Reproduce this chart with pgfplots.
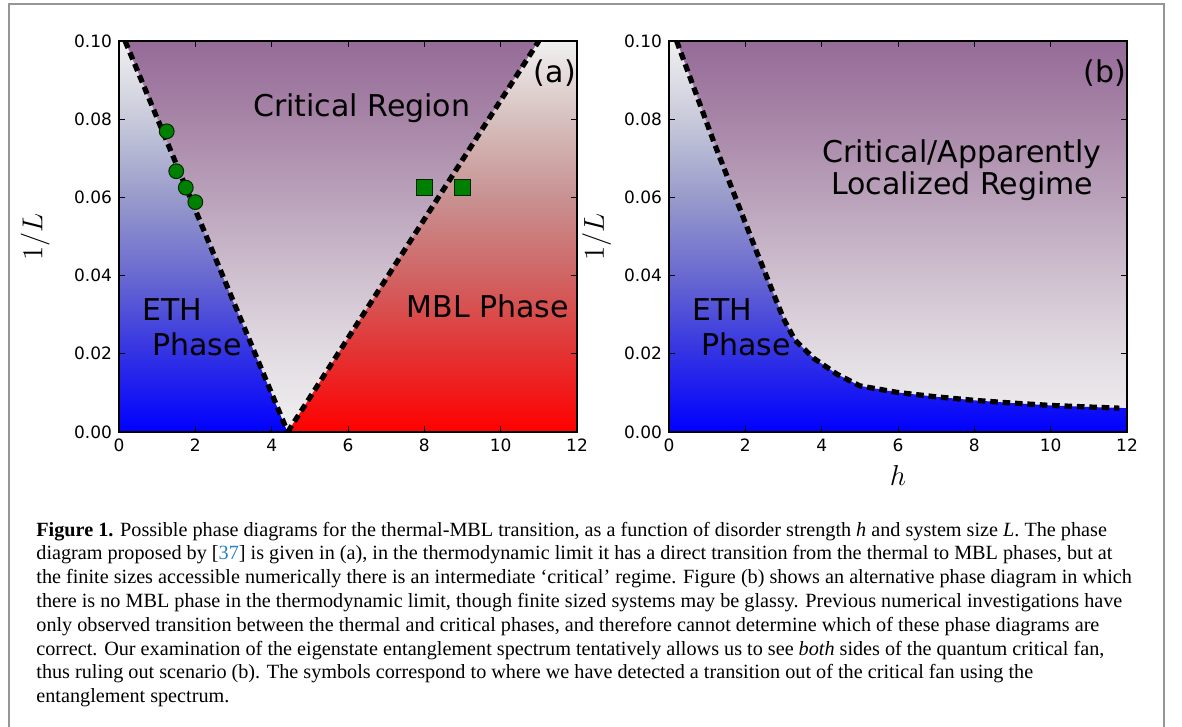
\documentclass[border=0pt]{standalone}
\usepackage[no-math]{fontspec}
\setmainfont{Liberation Serif}
\newfontfamily\dejavu{DejaVu Sans}
\usepackage{pgfplots}
\pgfplotsset{compat=1.18}

\definecolor{mplgreen}{RGB}{0,128,0}
\definecolor{citeblue}{RGB}{40,130,190}
\definecolor{framegray}{RGB}{150,150,150}
\definecolor{ltgray}{RGB}{240,240,240}
% colour stops, y = 0, .02, .04, .06, .08, .10
\definecolor{eth0}{RGB}{0,0,255}
\definecolor{eth1}{RGB}{50,50,228}
\definecolor{eth2}{RGB}{105,105,208}
\definecolor{eth3}{RGB}{152,155,202}
\definecolor{eth4}{RGB}{200,202,218}
\definecolor{crit1}{RGB}{226,220,226}
\definecolor{crit2}{RGB}{207,192,207}
\definecolor{crit3}{RGB}{186,162,186}
\definecolor{crit4}{RGB}{167,133,167}
\definecolor{crit5}{RGB}{150,107,152}
\definecolor{mbl0}{RGB}{255,0,0}
\definecolor{mbl1}{RGB}{228,50,50}
\definecolor{mbl2}{RGB}{208,100,100}
\definecolor{mbl3}{RGB}{200,145,145}
\definecolor{mbl4}{RGB}{214,192,190}

\pgfdeclareverticalshading{eth}{100bp}{color(0bp)=(eth0); color(25bp)=(eth0);
  color(35bp)=(eth1); color(45bp)=(eth2); color(55bp)=(eth3); color(65bp)=(eth4);
  color(75bp)=(ltgray); color(100bp)=(ltgray)}
\pgfdeclareverticalshading{crit}{100bp}{color(0bp)=(ltgray); color(25bp)=(ltgray);
  color(35bp)=(crit1); color(45bp)=(crit2); color(55bp)=(crit3); color(65bp)=(crit4);
  color(75bp)=(crit5); color(100bp)=(crit5)}
\pgfdeclareverticalshading{mbl}{100bp}{color(0bp)=(mbl0); color(25bp)=(mbl0);
  color(35bp)=(mbl1); color(45bp)=(mbl2); color(55bp)=(mbl3); color(65bp)=(mbl4);
  color(75bp)=(ltgray); color(100bp)=(ltgray)}

\pgfplotsset{
  phase/.style={
    scale only axis, width=229pt, height=195.5pt,
    xmin=0, xmax=12, ymin=0, ymax=0.1,
    xtick={0,2,4,6,8,10,12},
    ytick={0,0.02,0.04,0.06,0.08,0.1},
    scaled y ticks=false,
    yticklabel style={/pgf/number format/.cd, fixed, fixed zerofill, precision=2},
    /pgf/number format/assume math mode=true,
    tick label style={font=\dejavu\fontsize{8.5}{10}\selectfont},
    major tick length=3pt,
    tick style={black, line width=0.5pt},
    axis line style={line width=0.6pt},
    axis on top,
    ylabel={$1/L$},
  },
}
\tikzset{
  boundary/.style={black, line width=2.6pt, dash pattern=on 3.8pt off 2.4pt},
  lbl/.style={font=\dejavu\fontsize{15}{17}\selectfont, align=center},
}

\begin{document}
\begin{tikzpicture}
\useasboundingbox (0,0) rectangle (591pt,-363.5pt);
\draw[framegray, line width=1pt] (4.5pt,-380pt) |- (582pt,-2pt) -- (582pt,-380pt);

% (a)
\begin{axis}[phase, at={(59.5pt,-216pt)}, anchor=south west,
  every axis y label/.style={at={(axis description cs:-0.183,0.5)}, rotate=90, anchor=center,
    font=\fontsize{14}{16}\selectfont}]
  \addplot[draw=none, shade, shading=eth]
    coordinates {(0,0) (0,0.1) (0.16,0.1) (4.42,0)} -- cycle;
  \addplot[draw=none, shade, shading=crit]
    coordinates {(0.16,0.1) (4.42,0) (11.0,0.1)} -- cycle;
  \addplot[draw=none, shade, shading=mbl]
    coordinates {(4.42,0) (11.0,0.1) (12,0.1) (12,0)} -- cycle;
  \addplot[boundary] coordinates {(0.16,0.1) (4.42,0)};
  \addplot[boundary] coordinates {(4.42,0) (11.0,0.1)};
  \addplot[only marks, mark=*, mark size=3.7pt, mark options={fill=mplgreen, draw=black!70!mplgreen, line width=0.5pt}]
    coordinates {(1.25,0.0769) (1.5,0.0667) (1.75,0.0625) (2.0,0.0588)};
  \addplot[only marks, mark=square*, mark size=3.9pt, mark options={fill=mplgreen, draw=black!70!mplgreen, line width=0.5pt}]
    coordinates {(8,0.0625) (9,0.0625)};
  \node[lbl] at (axis cs:6.36,0.0827) {Critical Region};
  \node[lbl] at (axis cs:11.42,0.0917) {(a)};
  \node[lbl] at (axis cs:1.39,0.0313) {ETH};
  \node[lbl] at (axis cs:2.04,0.0223) {Phase};
  \node[lbl] at (axis cs:9.66,0.0321) {MBL Phase};
\end{axis}

% (b)
\begin{axis}[phase, at={(334.5pt,-216pt)}, anchor=south west,
  every axis y label/.style={at={(axis description cs:-0.158,0.5)}, rotate=90, anchor=center,
    font=\fontsize{14}{16}\selectfont},
  xlabel={$h$},
  every axis x label/.style={at={(axis description cs:0.5,-0.11)}, anchor=center,
    font=\fontsize{13.5}{15}\selectfont}]
  \addplot[draw=none, shade, shading=crit]
    coordinates {(0,0) (0,0.1) (12,0.1) (12,0)} -- cycle;
  \addplot[draw=none, shade, shading=eth]
    coordinates {(0,0) (0,0.1) (0.2,0.1) (1.2,0.0735) (2.3,0.046) (3.0,0.029)
      (3.3,0.0235) (3.8,0.0188) (4.4,0.0148) (5.0,0.0118) (6,0.0101) (7,0.0090)
      (8,0.0081) (9,0.0074) (10,0.0068) (11,0.0064) (12,0.0061) (12,0)} -- cycle;
  \addplot[boundary] coordinates {(0.2,0.1) (1.2,0.0735) (2.3,0.046) (3.0,0.029)
      (3.3,0.0235) (3.8,0.0188) (4.4,0.0148) (5.0,0.0118) (6,0.0101) (7,0.0090)
      (8,0.0081) (9,0.0074) (10,0.0068) (11,0.0064) (11.8,0.0061)};
  \node[lbl] at (axis cs:7.68,0.0670) {Critical/Apparently\\[-1pt]Localized Regime};
  \node[lbl] at (axis cs:11.42,0.0919) {(b)};
  \node[lbl] at (axis cs:1.39,0.0313) {ETH};
  \node[lbl] at (axis cs:2.02,0.0225) {Phase};
\end{axis}

% caption
\begin{scope}[every node/.style={anchor=base west, inner sep=0pt, font=\fontsize{10.1}{11.85}\selectfont}]
\node at (18pt,-268pt) {\textbf{Figure 1.} Possible phase diagrams for the thermal-MBL transition, as a function of disorder strength \textit{h} and system size \textit{L}. The phase};
\node at (18pt,-279.75pt) {diagram proposed by [{\color{citeblue}37}] is given in (a), in the thermodynamic limit it has a direct transition from the thermal to MBL phases, but at};
\node at (18pt,-291.5pt) {the finite sizes accessible numerically there is an intermediate `critical' regime. Figure (b) shows an alternative phase diagram in which};
\node at (18pt,-303.5pt) {there is no MBL phase in the thermodynamic limit, though finite sized systems may be glassy. Previous numerical investigations have};
\node at (18pt,-315.5pt) {only observed transition between the thermal and critical phases, and therefore cannot determine which of these phase diagrams are};
\node at (18pt,-327.5pt) {correct. Our examination of the eigenstate entanglement spectrum tentatively allows us to see \textit{both} sides of the quantum critical fan,};
\node at (18pt,-339pt) {thus ruling out scenario (b). The symbols correspond to where we have detected a transition out of the critical fan using the};
\node at (18pt,-351pt) {entanglement spectrum.};
\end{scope}
\end{tikzpicture}
\end{document}
